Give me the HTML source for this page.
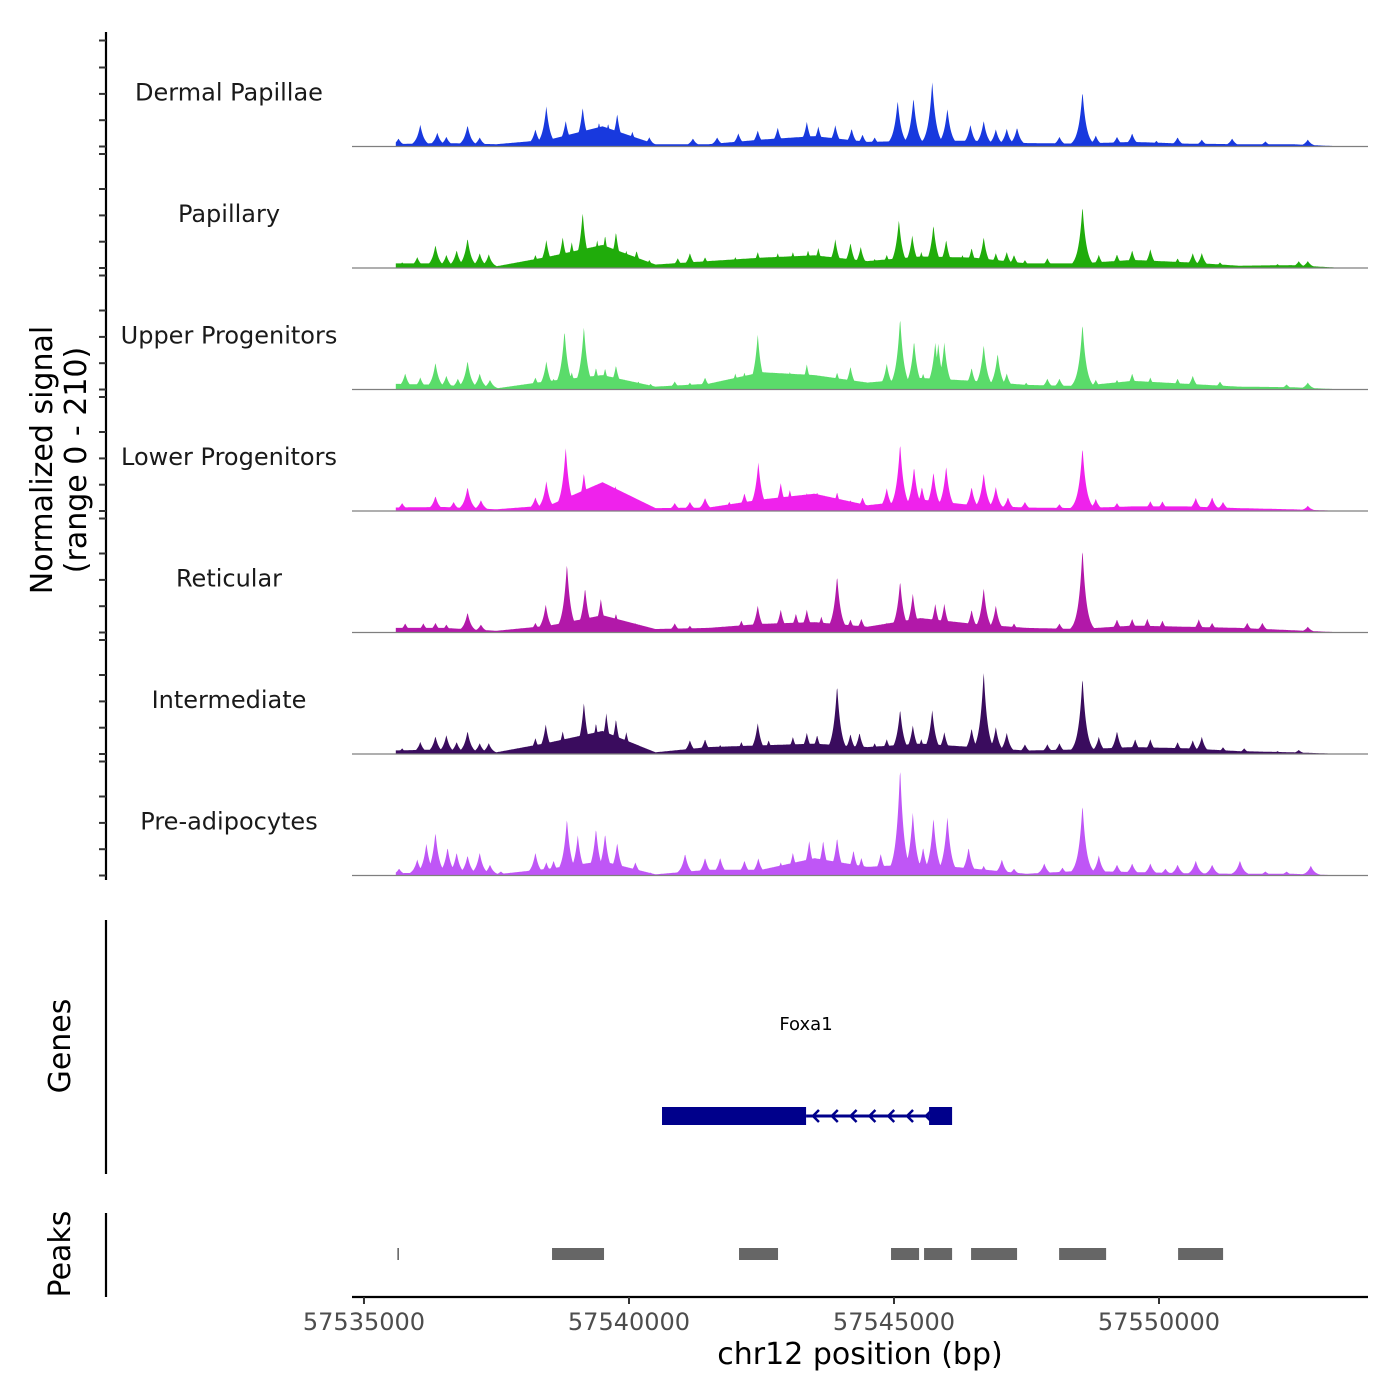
<!DOCTYPE html>
<html><head><meta charset="utf-8"><style>
html,body{margin:0;padding:0;background:#fff;}
svg{display:block;font-family:"DejaVu Sans","Liberation Sans",sans-serif;}
</style></head><body>
<svg id="chart" width="1400" height="1400" viewBox="0 0 1400 1400" xmlns="http://www.w3.org/2000/svg">
<rect x="0" y="0" width="1400" height="1400" fill="#fff"/>
<g id="tracks"></g>
<g id="leftaxis">
<line x1="106" y1="32" x2="106" y2="880" stroke="#000" stroke-width="2.2"/>
</g>
<text transform="translate(52,460) rotate(-90)" text-anchor="middle" font-size="30" fill="#000">Normalized signal</text>
<text transform="translate(86,460) rotate(-90)" text-anchor="middle" font-size="30" fill="#000">(range 0 - 210)</text>
<g>
<line x1="106" y1="920" x2="106" y2="1174" stroke="#000" stroke-width="2.2"/>
<text transform="translate(70,1046) rotate(-90)" text-anchor="middle" font-size="30" fill="#000">Genes</text>
<g id="gene"></g>
</g>
<g>
<line x1="106" y1="1213" x2="106" y2="1297" stroke="#000" stroke-width="2.2"/>
<text transform="translate(70,1254) rotate(-90)" text-anchor="middle" font-size="30" fill="#000">Peaks</text>
<g id="peaks"></g>
</g>
<g id="xaxis">
<line x1="352" y1="1297" x2="1368" y2="1297" stroke="#000" stroke-width="2.2"/>
</g>
<text x="860" y="1364" text-anchor="middle" font-size="30" fill="#000">chr12 position (bp)</text>
</svg>
<script>
// ---- data ----
const regionStart = 57535000;
const trackNames = ["Dermal Papillae","Papillary","Upper Progenitors","Lower Progenitors","Reticular","Intermediate","Pre-adipocytes"];
const trackColors = ["#1839de","#20ac0b","#5adc6a","#ef22ec","#b218a9","#3a0c5e","#bf56f6"];
const floorPos = [500,1500,2500,3500,4500,5500,6500,7500,8500,9500,10500,11500,12500,13500,14500,15500,16500,17500,18500];

const dpPos = [650,1062,1383,1554,1954,2183,3234,3440,3806,4126,4434,4606,4777,5063,5383,6206,6663,7063,7429,7806,8355,8572,8892,9200,9406,9635,10069,10367,10721,11007,11441,11692,11921,12127,12321,13121,13556,13807,14207,14493,14950,15350,15807,16379,17007,17807];
const dpVal = [14,38,24,17,37,16,30,70,45,68,42,40,57,26,16,14,16,23,28,33,43,35,37,31,21,16,80,85,113,66,38,45,30,31,33,17,96,19,17,23,10,16,12,14,9,12];
const dpFloor = [4,6,4,12,35,4,4,12,18,8,10,10,6,5,8,5,4,4,0];

const papPos = [720,1005,1348,1554,1748,1954,2183,2354,3234,3440,3749,3920,4126,4400,4549,4754,4949,5143,5383,5920,6149,6435,7006,7429,7806,8092,8378,8572,8892,9178,9372,9635,9863,10092,10344,10515,10744,10984,11292,11464,11692,11921,12127,12264,12470,12893,13556,13864,14207,14493,14836,15350,15636,15807,16150,17236,17636,17807];
const papVal = [10,19,40,23,31,52,26,24,23,49,54,45,97,49,57,63,30,30,14,17,26,19,19,28,26,28,31,35,50,44,37,16,23,84,57,28,75,49,23,35,54,26,28,23,14,17,108,23,24,31,33,17,26,26,10,7,12,12];
const papFloor = [8,8,3,20,40,6,12,18,22,12,20,18,8,8,14,10,4,5,0];

const upPos = [777,1062,1348,1554,1771,1954,2183,2377,3234,3440,3577,3783,3920,4149,4377,4549,4754,4949,5177,5406,5863,6149,6435,7006,7178,7429,7669,8035,8355,8663,8926,9178,9406,9863,10115,10378,10549,10778,10835,10949,11121,11464,11692,11955,12127,12493,12893,13121,13556,13807,14207,14493,14836,15350,15636,16150,17407,17807];
const upVal = [28,21,47,24,19,50,28,17,21,49,19,103,30,110,38,37,42,16,14,10,14,12,21,28,30,96,30,31,44,19,30,40,12,45,125,85,28,82,80,82,16,38,78,63,28,12,19,19,115,17,17,28,21,19,24,14,9,12];
const upFloor = [10,8,2,15,25,5,10,30,25,12,20,15,8,6,15,10,5,4,0];

const lowPos = [720,1348,1691,1954,2206,3234,3440,3806,4149,4434,4743,4949,5863,6149,6435,6892,7178,7440,7863,8035,8355,8549,8926,9178,9406,9863,10115,10378,10527,10744,10984,11464,11692,11921,12150,12470,13121,13556,13807,14207,14836,15064,15693,16002,16207,17807];
const lowVal = [14,26,16,42,19,24,52,111,66,49,44,17,14,16,23,16,31,85,49,37,31,33,33,19,24,40,118,77,42,68,78,42,66,42,24,16,12,111,21,14,17,17,23,24,16,9];
const lowFloor = [6,7,3,10,50,5,6,20,30,10,20,10,6,5,8,8,5,3,0];

const retPos = [777,1120,1348,1554,1954,2206,3234,3429,3829,4171,4469,4754,5120,5863,6149,7120,7429,7863,8149,8355,8629,8926,9178,9384,9635,9863,10115,10355,10549,10778,10949,11464,11692,11921,12264,13121,13556,14207,14493,14779,15064,15750,16002,16664,16950,17807];
const retVal = [16,16,17,14,35,14,17,49,120,78,59,33,16,16,12,21,47,40,33,40,28,99,23,24,12,17,90,68,26,50,50,40,78,47,16,16,146,23,24,24,21,23,17,17,17,10];
const retFloor = [8,8,3,12,30,6,8,15,18,10,25,15,8,6,12,10,8,4,0];

const intPos = [720,1062,1348,1554,1748,1954,2183,2354,3234,3429,3749,4149,4377,4572,4754,4949,5406,6149,6435,6720,7120,7429,7635,8092,8355,8549,8926,9178,9349,9635,9863,10115,10355,10515,10721,10949,11235,11464,11692,11921,12127,12470,12893,13121,13556,13864,14207,14550,14836,15350,15636,15807,16207,16607,17236,17636];
const intVal = [10,21,31,33,21,40,19,19,28,52,40,90,54,71,61,38,7,24,26,16,21,54,24,30,37,33,120,35,37,19,26,78,50,26,77,38,10,45,144,47,37,17,17,19,134,30,40,26,26,21,24,30,12,10,5,7];
const intFloor = [6,8,3,20,40,3,12,15,18,12,18,12,6,8,12,10,5,3,0];

const prePos = [662,1005,1177,1348,1577,1748,1954,2183,2377,2583,3234,3440,3577,3829,4034,4377,4549,4777,5120,5406,6058,6435,6720,7178,7440,7863,8092,8400,8663,8926,9235,9384,9749,10115,10355,10549,10744,11007,11407,11692,12035,12264,12835,13178,13556,13864,14207,14493,14836,15121,15350,15693,16002,16527,17007,17407,17864];
const preVal = [12,28,56,75,49,40,35,40,19,7,40,23,26,99,70,82,73,57,23,5,38,31,31,26,30,23,40,61,61,66,44,31,38,188,110,49,101,103,49,17,28,12,21,14,124,35,19,21,21,12,19,26,19,26,7,7,17];
const preFloor = [4,5,2,12,25,2,10,10,30,15,20,12,3,8,6,4,3,3,0];

const xTicks = [57535000,57540000,57545000,57550000];
const peakStarts = [57535630,57538548,57542076,57544944,57545567,57546454,57548115,57550360];
const peakEnds   = [57535660,57539529,57542812,57545473,57546096,57547322,57549002,57551209];
const geneStart = 57540623, geneCdsEnd = 57543341, geneExon2Start = 57545662, geneEnd = 57546096;
const geneName = "Foxa1";

// ---- scales ----
const xMin = 57534774, xMax = 57553943, pxL = 352, pxR = 1368;
function xs(bp){ return pxL + (bp - xMin) / (xMax - xMin) * (pxR - pxL); }
const trackH = 121, yMax = 210;
function ys(v, base){ return base - v / yMax * trackH; }
const baselines = [146.5,268,389.5,511,632.5,754,875.5];
const signalStart = 600, signalEnds = [18300,18300,18300,18300,18300,18300,18200];

const NS = "http://www.w3.org/2000/svg";
function mk(tag, attrs, parent){ const e = document.createElementNS(NS, tag); for (const k in attrs) e.setAttribute(k, attrs[k]); parent.appendChild(e); return e; }

const allPos = [dpPos,papPos,upPos,lowPos,retPos,intPos,prePos];
const allVal = [dpVal,papVal,upVal,lowVal,retVal,intVal,preVal];
const allFloor = [dpFloor,papFloor,upFloor,lowFloor,retFloor,intFloor,preFloor];

function signalAt(off, pos, val, floor){
  let f = 0;
  for (let i = 0; i < floorPos.length - 1; i++){
    if (off >= floorPos[i] && off <= floorPos[i+1]){ const t = (off - floorPos[i])/(floorPos[i+1]-floorPos[i]); f = floor[i]*(1-t)+floor[i+1]*t; break; }
  }
  if (off < floorPos[0]) f = floor[0];
  let m = f;
  const n = Math.min(pos.length, val.length);
  for (let i = 0; i < n; i++){
    const d = Math.abs(off - pos[i]) / 75;
    if (d < 6){ const v = val[i]*Math.exp(-d); if (v > m) m = v; }
  }
  return m;
}

const tracksG = document.getElementById('tracks');
const leftAxis = document.getElementById('leftaxis');
for (let t = 0; t < trackNames.length; t++){
  const base = baselines[t];
  const g = mk('g', {}, tracksG);
  
  
  const x0 = xs(regionStart + signalStart), x1 = xs(regionStart + signalEnds[t]);
  let d = 'M' + x0.toFixed(1) + ',' + base;
  for (let px = x0; px <= x1; px += 0.5){
    const bp = xMin + (px - pxL) / (pxR - pxL) * (xMax - xMin);
    const v = signalAt(bp - regionStart, allPos[t], allVal[t], allFloor[t]);
    d += 'L' + px.toFixed(1) + ',' + ys(v, base).toFixed(1);
  }
  d += 'L' + x1.toFixed(1) + ',' + base + 'Z';
  const area = mk('path', {d: d, fill: trackColors[t], stroke: 'none'}, g);
  
  
  const bl = mk('line', {x1: pxL, y1: base, x2: pxR, y2: base, stroke: '#7f7f7f', 'stroke-width': 1.2}, g);
  
  
  const lab = mk('text', {x: 229, y: base - 46, 'text-anchor': 'middle', 'font-size': 24, fill: '#1a1a1a'}, g);
  
  
  lab.textContent = trackNames[t];
  const offs = t === 0 ? [0, 26.3, 52.6, 79, 106] : [0, 26.3, 52.6, 79, 114];
  for (const o of offs){
    const ty = base - o;
    const tk = mk('line', {x1: 99, y1: ty, x2: 106, y2: ty, stroke: '#333', 'stroke-width': 2}, leftAxis);
    
    
  }
}

// gene
const geneG = document.getElementById('gene');
const gl = mk('text', {x: 806, y: 1030, 'text-anchor': 'middle', 'font-size': 18, fill: '#000'}, geneG);


gl.textContent = geneName;
const intron = mk('line', {x1: xs(geneCdsEnd), y1: 1116, x2: xs(geneExon2Start), y2: 1116, stroke: '#00008b', 'stroke-width': 3}, geneG);


for (let bp = geneCdsEnd + 130; bp < geneExon2Start; bp += 355){
  const ax = xs(bp);
  const ar = mk('polyline', {points: (ax+6)+',1110 '+ax+',1116 '+(ax+6)+',1122', fill: 'none', stroke: '#00008b', 'stroke-width': 2.5}, geneG);
  
  
}
const ex1 = mk('rect', {x: xs(geneStart), y: 1107, width: xs(geneCdsEnd) - xs(geneStart), height: 18, fill: '#00008b'}, geneG);


const ex2 = mk('rect', {x: xs(geneExon2Start), y: 1107, width: xs(geneEnd) - xs(geneExon2Start), height: 18, fill: '#00008b'}, geneG);



// peaks
const peaksG = document.getElementById('peaks');
for (let i = 0; i < peakStarts.length; i++){
  const w = Math.max(1.5, xs(peakEnds[i]) - xs(peakStarts[i]));
  const r = mk('rect', {x: xs(peakStarts[i]), y: 1248, width: w, height: 12, fill: '#666666'}, peaksG);
  
  
}

// x axis
const xa = document.getElementById('xaxis');
for (const v of xTicks){
  const tx = xs(v);
  const tk = mk('line', {x1: tx, y1: 1297, x2: tx, y2: 1304, stroke: '#333', 'stroke-width': 2}, xa);
  
  
  const tl = mk('text', {x: tx, y: 1330, 'text-anchor': 'middle', 'font-size': 24, fill: '#4d4d4d'}, xa);
  
  
  tl.textContent = String(v);
}
</script>
</body></html>
